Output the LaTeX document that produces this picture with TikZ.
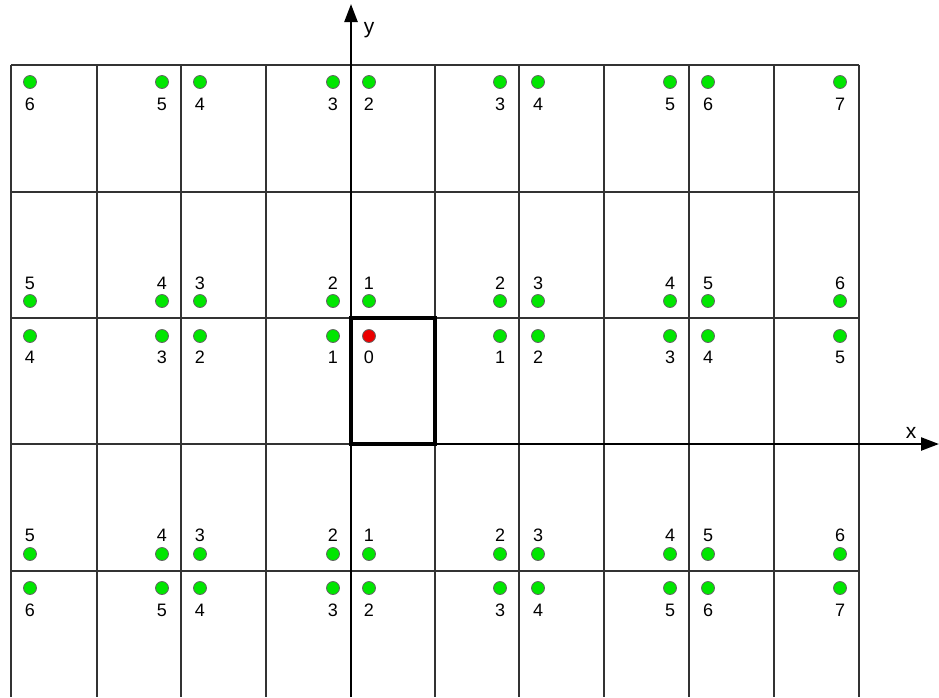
\documentclass[tikz,border=0pt]{standalone}
\usepackage{fontspec}
\setmainfont{Liberation Sans}
\usetikzlibrary{arrows.meta}
\definecolor{dotgreen}{RGB}{0,230,0}
\definecolor{dotred}{RGB}{235,0,0}
\begin{document}
\begin{tikzpicture}[x=1pt,y=-1pt,
  gridline/.style={draw=black!80,line width=1.1pt},
  axisline/.style={draw=black,line width=2.4pt,-{Triangle[length=18pt,width=13pt]}},
  dotg/.style={circle,fill=dotgreen,draw=black!60,line width=0.8pt,minimum size=13pt,inner sep=0pt},
  dotr/.style={dotg,fill=dotred},
  num/.style={inner sep=0pt,font=\fontsize{18}{21}\selectfont},
  axlabel/.style={inner sep=0pt,font=\fontsize{21}{25}\selectfont}]
\useasboundingbox (0,0) rectangle (939,697);
% grid
\foreach \gx in {11,97,181,266,435,519,604,689,774,859}
  \draw[gridline] (\gx,65) -- (\gx,697);
\foreach \gy in {65,192,318,444,571}
  \draw[gridline] (11,\gy) -- (859,\gy);
% dots and labels
\foreach \x/\a/\b/\c [count=\i] in {30/6/5/4,162/5/4/3,200/4/3/2,333/3/2/1,369/2/1/0,500/3/2/1,538/4/3/2,670/5/4/3,708/6/5/4,840/7/6/5}{
  \node[dotg] (dA\i) at (\x,82) {};
  \node[num] (lA\i) at (\x,104) {\a};
  \node[dotg] (dB\i) at (\x,301) {};
  \node[num] (lB\i) at (\x,283) {\b};
  \ifnum\c=0
    \node[dotr] (dC\i) at (\x,336) {};
  \else
    \node[dotg] (dC\i) at (\x,336) {};
  \fi
  \node[num] (lC\i) at (\x,357) {\c};
  \node[dotg] (dD\i) at (\x,554) {};
  \node[num] (lD\i) at (\x,535) {\b};
  \node[dotg] (dE\i) at (\x,588) {};
  \node[num] (lE\i) at (\x,610) {\a};
}
% unit cell
\draw[line width=3.6pt,line join=miter] (351,318) rectangle (435,444);
% axes
\coordinate (ybot) at (351,697);
\coordinate (ytop) at (351,4);
\coordinate (xorg) at (351,444);
\coordinate (xend) at (939,444);
\draw[axisline] (ybot) -- (ytop);
\draw[axisline] (xorg) -- (xend);
\node[axlabel] (ylab) at (369,30) {y};
\node[axlabel] (xlab) at (911,433) {x};
\end{tikzpicture}
\end{document}
